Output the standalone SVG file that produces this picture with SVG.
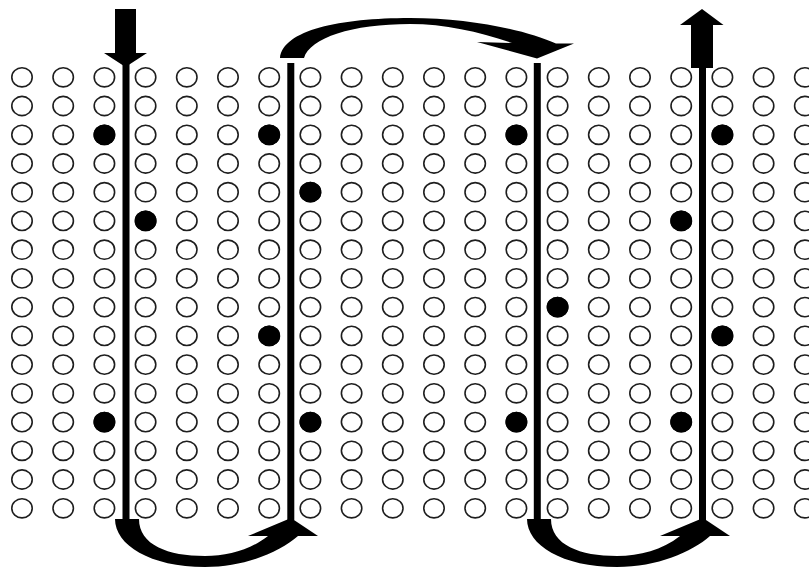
<svg xmlns="http://www.w3.org/2000/svg" xmlns:xlink="http://www.w3.org/1999/xlink" width="809" height="567" viewBox="0 0 809 567">
<style>
.o{fill:none;stroke:#1e1e1e;stroke-width:1.6}
.f{fill:#000}
.ln{stroke:#000;stroke-width:7;fill:none}
.ar{fill:#000}
</style>
<defs>
<g id="col">
<ellipse class="o" cx="0" cy="77.3" rx="10.2" ry="9.6"/>
<ellipse class="o" cx="0" cy="106" rx="10.2" ry="9.6"/>
<ellipse class="o" cx="0" cy="134.8" rx="10.2" ry="9.6"/>
<ellipse class="o" cx="0" cy="163.5" rx="10.2" ry="9.6"/>
<ellipse class="o" cx="0" cy="192.2" rx="10.2" ry="9.6"/>
<ellipse class="o" cx="0" cy="220.9" rx="10.2" ry="9.6"/>
<ellipse class="o" cx="0" cy="249.7" rx="10.2" ry="9.6"/>
<ellipse class="o" cx="0" cy="278.4" rx="10.2" ry="9.6"/>
<ellipse class="o" cx="0" cy="307.1" rx="10.2" ry="9.6"/>
<ellipse class="o" cx="0" cy="335.9" rx="10.2" ry="9.6"/>
<ellipse class="o" cx="0" cy="364.6" rx="10.2" ry="9.6"/>
<ellipse class="o" cx="0" cy="393.3" rx="10.2" ry="9.6"/>
<ellipse class="o" cx="0" cy="422.1" rx="10.2" ry="9.6"/>
<ellipse class="o" cx="0" cy="450.8" rx="10.2" ry="9.6"/>
<ellipse class="o" cx="0" cy="479.5" rx="10.2" ry="9.6"/>
<ellipse class="o" cx="0" cy="508.3" rx="10.2" ry="9.6"/>
</g>
<path id="uarrow" class="ar" d="M115,519 L139,519 C139,545 168,556 205,556 C228,556 250,550 268,536 L248,536 L291,518 L318,536 L298,536 C280,552 245,567 205,567 C150,567 115,545 115,519 Z"/>
</defs>
<rect width="809" height="567" fill="#fff"/>
<g id="grid">
<use href="#col" x="22"/>
<use href="#col" x="63.2"/>
<use href="#col" x="104.4"/>
<use href="#col" x="145.6"/>
<use href="#col" x="186.8"/>
<use href="#col" x="228"/>
<use href="#col" x="269.2"/>
<use href="#col" x="310.4"/>
<use href="#col" x="351.6"/>
<use href="#col" x="392.8"/>
<use href="#col" x="434"/>
<use href="#col" x="475.2"/>
<use href="#col" x="516.4"/>
<use href="#col" x="557.6"/>
<use href="#col" x="598.8"/>
<use href="#col" x="640"/>
<use href="#col" x="681.2"/>
<use href="#col" x="722.4"/>
<use href="#col" x="763.6"/>
<use href="#col" x="804.8"/>
</g>
<g id="filled">
<ellipse class="f" cx="104.4" cy="134.8" rx="10.9" ry="10.4"/>
<ellipse class="f" cx="104.4" cy="422.1" rx="10.9" ry="10.4"/>
<ellipse class="f" cx="145.6" cy="220.9" rx="10.9" ry="10.4"/>
<ellipse class="f" cx="269.2" cy="134.8" rx="10.9" ry="10.4"/>
<ellipse class="f" cx="269.2" cy="335.9" rx="10.9" ry="10.4"/>
<ellipse class="f" cx="310.4" cy="192.2" rx="10.9" ry="10.4"/>
<ellipse class="f" cx="310.4" cy="422.1" rx="10.9" ry="10.4"/>
<ellipse class="f" cx="516.4" cy="134.8" rx="10.9" ry="10.4"/>
<ellipse class="f" cx="516.4" cy="422.1" rx="10.9" ry="10.4"/>
<ellipse class="f" cx="557.6" cy="307.1" rx="10.9" ry="10.4"/>
<ellipse class="f" cx="681.2" cy="220.9" rx="10.9" ry="10.4"/>
<ellipse class="f" cx="681.2" cy="422.1" rx="10.9" ry="10.4"/>
<ellipse class="f" cx="722.4" cy="134.8" rx="10.9" ry="10.4"/>
<ellipse class="f" cx="722.4" cy="335.9" rx="10.9" ry="10.4"/>
</g>
<g id="connectors">
<line class="ln" x1="126" y1="60" x2="126" y2="520"/>
<line class="ln" x1="290.8" y1="63" x2="290.8" y2="520"/>
<line class="ln" x1="537.3" y1="63" x2="537.3" y2="520"/>
<line class="ln" x1="702.5" y1="66" x2="702.5" y2="520"/>
<polygon class="ar" points="115,9 136,9 136,53 147,53 125.5,67 104,53 115,53"/>
<polygon class="ar" points="691,68 713,68 713,25 723.5,25 702,9 680,25 691,25"/>
<path class="ar" d="M280,58 C283,30 340,18 410,18 C470,18 525,30 556,43.5 L574,43.5 L537,58.5 L477,42 L512,43 C480,32 445,24 410,24 C352,24 310,38 304,58 Z"/>
<use href="#uarrow"/>
<use href="#uarrow" x="412"/>
</g>
</svg>
